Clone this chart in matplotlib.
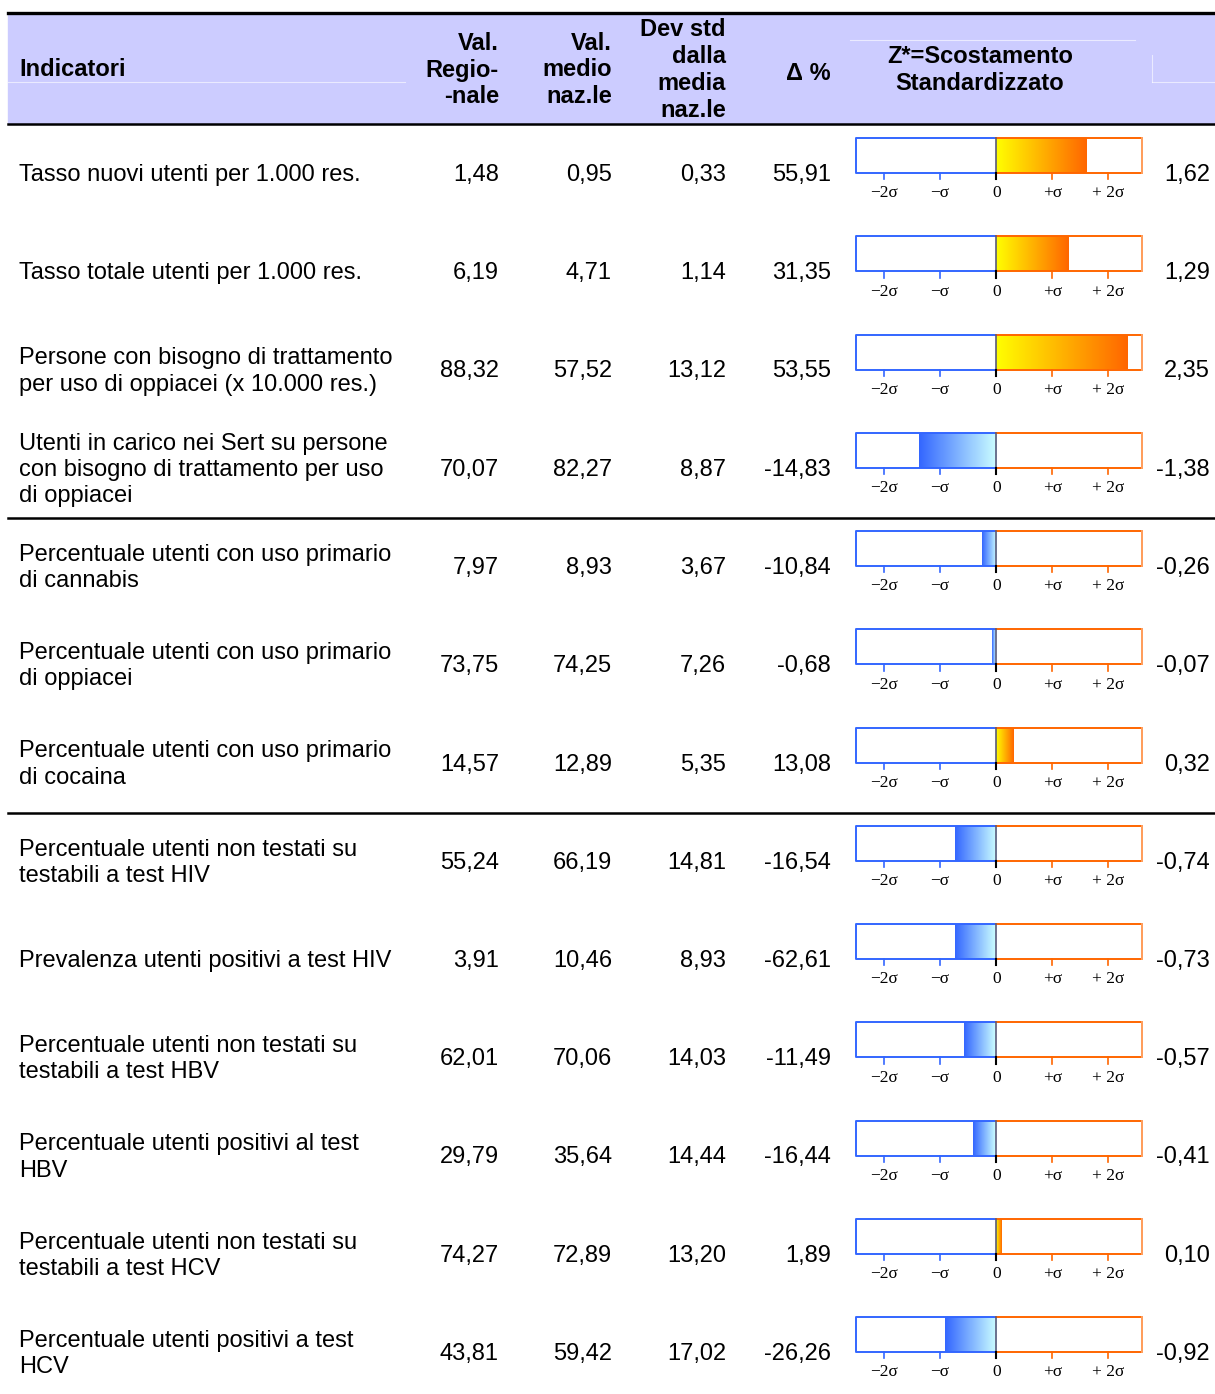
import numpy as np
import matplotlib
matplotlib.use('Agg')
import matplotlib.pyplot as plt
from matplotlib.patches import Rectangle

plt.rcParams['font.family'] = ['Liberation Sans', 'DejaVu Sans']

# dati della tabella
indicatori = [
    'Tasso nuovi utenti per 1.000 res.',
    'Tasso totale utenti per 1.000 res.',
    'Persone con bisogno di trattamento\nper uso di oppiacei (x 10.000 res.)',
    'Utenti in carico nei Sert su persone\ncon bisogno di trattamento per uso\ndi oppiacei',
    'Percentuale utenti con uso primario\ndi cannabis',
    'Percentuale utenti con uso primario\ndi oppiacei',
    'Percentuale utenti con uso primario\ndi cocaina',
    'Percentuale utenti non testati su\ntestabili a test HIV',
    'Prevalenza utenti positivi a test HIV',
    'Percentuale utenti non testati su\ntestabili a test HBV',
    'Percentuale utenti positivi al test\nHBV',
    'Percentuale utenti non testati su\ntestabili a test HCV',
    'Percentuale utenti positivi a test\nHCV',
]
val_regionale = [1.48, 6.19, 88.32, 70.07, 7.97, 73.75, 14.57, 55.24, 3.91, 62.01, 29.79, 74.27, 43.81]
val_nazionale = [0.95, 4.71, 57.52, 82.27, 8.93, 74.25, 12.89, 66.19, 10.46, 70.06, 35.64, 72.89, 59.42]
dev_std = [0.33, 1.14, 13.12, 8.87, 3.67, 7.26, 5.35, 14.81, 8.93, 14.03, 14.44, 13.20, 17.02]
delta_perc = [55.91, 31.35, 53.55, -14.83, -10.84, -0.68, 13.08, -16.54, -62.61, -11.49, -16.44, 1.89, -26.26]
z_score = [1.62, 1.29, 2.35, -1.38, -0.26, -0.07, 0.32, -0.74, -0.73, -0.57, -0.41, 0.10, -0.92]
fine_gruppo = [3, 6]   # righe dopo cui va la linea nera
sigma_ticks = [-2, -1, 0, 1, 2]
sigma_labels = ['\u22122\u03c3', '\u2212\u03c3', '0', '+\u03c3', '+ 2\u03c3']

W, H = 1215, 1394
BLU = '#3366ff'
ARANCIO = '#ff6600'
FS = 17


def fmt(v):
    return ('%.2f' % v).replace('.', ',')


fig = plt.figure(figsize=(W / 100, H / 100), dpi=100)
ax = fig.add_axes([0, 0, 1, 1])
ax.set_xlim(0, W)
ax.set_ylim(H, 0)
ax.axis('off')

# intestazione
ax.add_patch(Rectangle((8, 14), W - 8, 110, color='#ccccff', zorder=0))
ax.plot([8, W], [13, 13], color='k', lw=2.4)
ax.plot([8, W], [124, 124], color='k', lw=1.8)
ax.plot([8, 405], [82, 82], color='white', lw=0.8, alpha=0.6)
ax.plot([850, 1135], [40, 40], color='white', lw=0.8, alpha=0.6)
ax.plot([1152, W], [82, 82], color='white', lw=0.8, alpha=0.6)
ax.plot([1152, 1152], [55, 82], color='white', lw=0.8, alpha=0.6)

hdr = dict(fontsize=FS, fontweight='bold', linespacing=1.21)
ax.text(19, 70, 'Indicatori', ha='left', va='center', **hdr)
ax.text(499, 70, 'Val.\nRegio-\n-nale', ha='right', va='center', multialignment='right', **hdr)
ax.text(612, 70, 'Val.\nmedio\nnaz.le', ha='right', va='center', multialignment='right', **hdr)
ax.text(726, 70, 'Dev std\ndalla\nmedia\nnaz.le', ha='right', va='center', multialignment='right', **hdr)
ax.text(808, 73, '\u0394 %', ha='center', va='center', **hdr)
ax.text(980, 70, 'Z*=Scostamento\nStandardizzato', ha='center', va='center', multialignment='center', **hdr)

# righe
for i in range(len(indicatori)):
    cy = 174 + i * 98.25
    ty = cy + 1
    ax.text(19, ty, indicatori[i], ha='left', va='center', fontsize=FS, linespacing=1.24)
    ax.text(499, ty, fmt(val_regionale[i]), ha='right', va='center', fontsize=FS)
    ax.text(612, ty, fmt(val_nazionale[i]), ha='right', va='center', fontsize=FS)
    ax.text(726, ty, fmt(dev_std[i]), ha='right', va='center', fontsize=FS)
    ax.text(831, ty, fmt(delta_perc[i]), ha='right', va='center', fontsize=FS)
    ax.text(1210, ty, fmt(z_score[i]), ha='right', va='center', fontsize=FS)

    if i in fine_gruppo:
        ax.plot([8, W], [cy + 49, cy + 49], color='k', lw=1.8)

    # barra dello scostamento standardizzato
    z = z_score[i]
    bx = fig.add_axes([856 / W, 1 - (cy - 1) / H, 286 / W, 35 / H])
    bx.axis('off')
    t = np.linspace(0, 1, 256)
    if z > 0:
        c0 = np.array([1.0, 1.0, 0.0])
        c1 = np.array([1.0, 0.4, 0.0])
        img = (c0[None, :] * (1 - t[:, None]) + c1[None, :] * t[:, None])[None, :, :]
        bx.imshow(img, extent=[0, z, 0, 1], aspect='auto', interpolation='bilinear')
    else:
        c0 = np.array([0.2, 0.4, 1.0])
        c1 = np.array([0.8, 1.0, 1.0])
        img = (c0[None, :] * (1 - t[:, None]) + c1[None, :] * t[:, None])[None, :, :]
        bx.imshow(img, extent=[z, 0, 0, 1], aspect='auto', interpolation='bilinear')
    bx.set_xlim(-2.5, 2.6)
    bx.set_ylim(0, 1)

    bx.plot([0, -2.5, -2.5, 0], [1, 1, 0, 0], color=BLU, lw=1.4, clip_on=False)
    bx.plot([0, 2.6, 2.6, 0], [1, 1, 0, 0], color=ARANCIO, lw=1.4, clip_on=False)
    bx.plot([2.6, 2.6], [0, 1], color='#ffa060', lw=1.4, clip_on=False)
    bx.plot([0, 0], [0, 1], color='#5a5a7a', lw=1.2, clip_on=False)

    for tk, lab in zip(sigma_ticks, sigma_labels):
        col = BLU if tk < 0 else (ARANCIO if tk > 0 else 'k')
        bx.plot([tk, tk], [0, -0.18], color=col, lw=1.5 if tk == 0 else 1.2, clip_on=False)
        bx.text(tk, -0.58, lab, ha='center', va='center', fontsize=12.5,
                family=['Liberation Serif', 'DejaVu Serif'], clip_on=False)

fig.savefig('out.png', dpi=100)
